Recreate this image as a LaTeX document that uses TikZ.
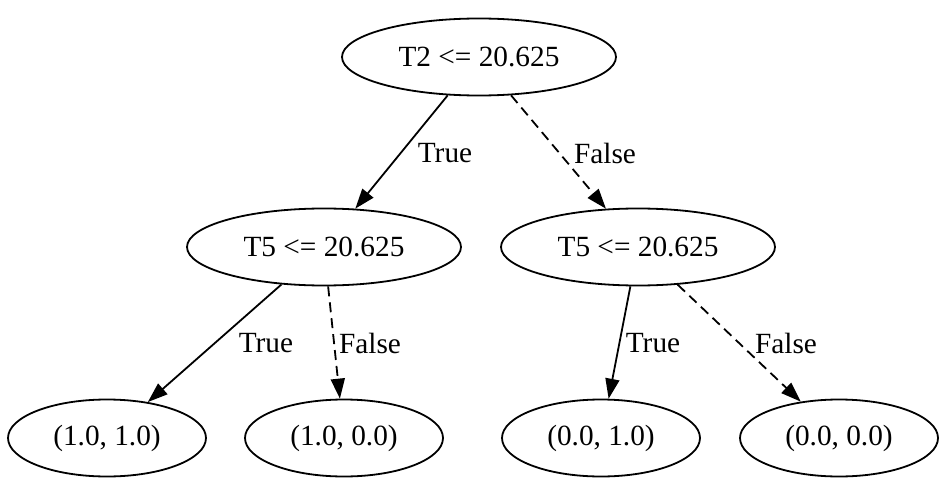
\documentclass[tikz,border=0pt]{standalone}
\usepackage{fontspec}
\setmainfont{Liberation Serif}
\usetikzlibrary{shapes.geometric,arrows.meta}
\begin{document}
\begin{tikzpicture}[x=1pt,y=-1pt,
  tnode/.style={draw,ellipse,line width=1.8pt,inner sep=0pt,minimum height=77pt,font=\fontsize{29.3}{35}\selectfont},
  inode/.style={tnode,minimum width=274pt},
  leaf/.style={tnode,minimum width=198pt},
  edge/.style={line width=1.8pt,-{Triangle[length=20pt,width=14pt]}},
  fedge/.style={edge,dash pattern=on 10pt off 6pt},
  lab/.style={inner sep=0pt,font=\fontsize{29.3}{35}\selectfont}]
\useasboundingbox (0,0) rectangle (947,492);
\node[inode] (r) at (479,57) {T2 <= 20.625};
\node[inode] (a) at (324,247) {T5 <= 20.625};
\node[inode] (b) at (638,247) {T5 <= 20.625};
\node[leaf] (l1) at (107,438) {(1.0, 1.0)};
\node[leaf] (l2) at (344,438) {(1.0, 0.0)};
\node[leaf] (l3) at (601,438) {(0.0, 1.0)};
\node[leaf] (l4) at (839,438) {(0.0, 0.0)};
\draw[edge] (r) -- (a);
\draw[fedge] (r) -- (b);
\draw[edge] (a) -- (l1);
\draw[fedge] (a) -- (l2);
\draw[edge] (b) -- (l3);
\draw[fedge] (b) -- (l4);
\node[lab] (t1) at (445,153) {True};
\node[lab] (f1) at (605,153) {False};
\node[lab] (t2) at (266,343) {True};
\node[lab] (f2) at (370,343) {False};
\node[lab] (t3) at (653,343) {True};
\node[lab] (f3) at (786,343) {False};
\end{tikzpicture}
\end{document}
